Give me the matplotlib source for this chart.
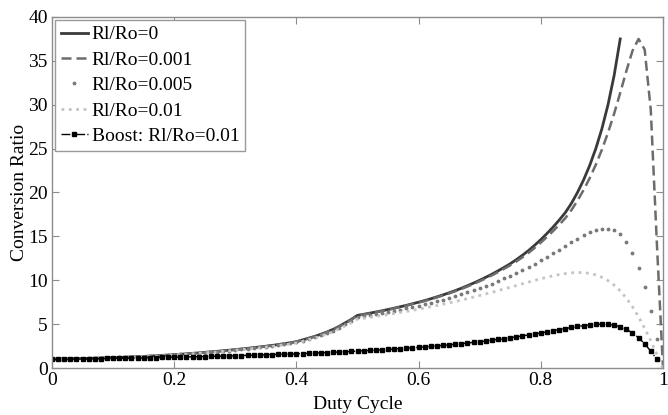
import matplotlib
matplotlib.use("Agg")
import matplotlib.pyplot as plt
import numpy as np

plt.rcParams["font.family"] = ["Liberation Serif", "DejaVu Serif"]
plt.rcParams["font.size"] = 14

# duty cycle grid, 0 .. 1.00 in steps of 0.01
duty = np.arange(101) / 100

# Rl/Ro = 0 (ideal), D = 0 .. 0.93
ratio_0 = [
    1.00, 1.02, 1.03, 1.05, 1.06, 1.08, 1.10, 1.12, 1.14, 1.16,
    1.18, 1.21, 1.23, 1.26, 1.29, 1.32, 1.36, 1.40, 1.44, 1.48,
    1.52, 1.57, 1.62, 1.67, 1.72, 1.78, 1.84, 1.90, 1.96, 2.03,
    2.10, 2.17, 2.24, 2.32, 2.40, 2.48, 2.57, 2.67, 2.77, 2.88,
    3.00, 3.20, 3.40, 3.60, 3.85, 4.10, 4.40, 4.75, 5.15, 5.55,
    6.00, 6.12, 6.25, 6.38, 6.52, 6.67, 6.82, 6.98, 7.14, 7.32,
    7.50, 7.69, 7.89, 8.11, 8.33, 8.57, 8.82, 9.09, 9.38, 9.68,
    10.00, 10.34, 10.69, 11.07, 11.47, 11.88, 12.35, 12.85, 13.39, 13.99,
    14.63, 15.32, 16.05, 16.85, 17.70, 18.75, 20.00, 21.43, 23.08, 25.00,
    27.27, 30.00, 33.33, 37.50,
]

# Rl/Ro = 0.001, D = 0 .. 1.00
ratio_001 = [
    1.00, 1.02, 1.03, 1.05, 1.06, 1.08, 1.10, 1.12, 1.14, 1.16,
    1.18, 1.21, 1.23, 1.26, 1.29, 1.32, 1.36, 1.40, 1.44, 1.48,
    1.52, 1.57, 1.62, 1.67, 1.72, 1.78, 1.84, 1.89, 1.95, 2.02,
    2.09, 2.16, 2.23, 2.31, 2.39, 2.47, 2.56, 2.66, 2.76, 2.87,
    2.99, 3.19, 3.38, 3.58, 3.83, 4.08, 4.38, 4.72, 5.12, 5.52,
    5.98, 6.10, 6.22, 6.35, 6.49, 6.64, 6.79, 6.94, 7.10, 7.28,
    7.46, 7.64, 7.84, 8.05, 8.27, 8.50, 8.75, 9.01, 9.29, 9.58,
    9.89, 10.22, 10.56, 10.93, 11.31, 11.70, 12.15, 12.62, 13.13, 13.69,
    14.29, 14.93, 15.60, 16.31, 17.07, 17.98, 19.07, 20.28, 21.64, 23.16,
    24.88, 26.82, 28.98, 31.36, 33.84, 36.13, 37.50, 36.29, 29.41, 14.15,
    0.00,
]

# Rl/Ro = 0.005, D = 0 .. 0.99
ratio_005 = [
    0.99, 1.01, 1.02, 1.04, 1.05, 1.07, 1.09, 1.11, 1.13, 1.15,
    1.17, 1.20, 1.22, 1.25, 1.27, 1.30, 1.34, 1.38, 1.42, 1.46,
    1.50, 1.55, 1.60, 1.65, 1.69, 1.75, 1.81, 1.87, 1.93, 1.99,
    2.06, 2.13, 2.20, 2.27, 2.35, 2.43, 2.52, 2.61, 2.71, 2.81,
    2.93, 3.12, 3.31, 3.50, 3.74, 3.98, 4.27, 4.60, 4.99, 5.37,
    5.79, 5.90, 6.02, 6.14, 6.26, 6.39, 6.52, 6.66, 6.80, 6.95,
    7.10, 7.27, 7.44, 7.61, 7.80, 7.99, 8.19, 8.40, 8.63, 8.86,
    9.10, 9.35, 9.62, 9.90, 10.20, 10.50, 10.83, 11.17, 11.52, 11.89,
    12.27, 12.67, 13.08, 13.49, 13.91, 14.33, 14.74, 15.12, 15.45, 15.71,
    15.87, 15.88, 15.69, 15.22, 14.40, 13.16, 11.43, 9.18, 6.45, 3.33,
]

# Rl/Ro = 0.01, D = 0 .. 1.00
ratio_01 = [
    0.98, 1.00, 1.01, 1.03, 1.04, 1.06, 1.08, 1.10, 1.11, 1.13,
    1.15, 1.18, 1.20, 1.23, 1.26, 1.29, 1.32, 1.36, 1.40, 1.44,
    1.48, 1.52, 1.57, 1.62, 1.67, 1.72, 1.78, 1.83, 1.89, 1.96,
    2.02, 2.09, 2.15, 2.23, 2.30, 2.37, 2.46, 2.55, 2.64, 2.74,
    2.85, 3.03, 3.22, 3.40, 3.63, 3.86, 4.13, 4.45, 4.81, 5.17,
    5.58, 5.67, 5.77, 5.88, 5.98, 6.09, 6.21, 6.33, 6.45, 6.57,
    6.70, 6.84, 6.98, 7.12, 7.27, 7.42, 7.58, 7.74, 7.91, 8.08,
    8.26, 8.44, 8.62, 8.81, 9.01, 9.20, 9.40, 9.60, 9.79, 9.98,
    10.17, 10.34, 10.51, 10.65, 10.76, 10.84, 10.88, 10.86, 10.78, 10.61,
    10.34, 9.96, 9.45, 8.79, 7.96, 6.98, 5.83, 4.52, 3.09, 1.57,
    0.00,
]

# Boost converter, Rl/Ro = 0.01, D = 0 .. 0.99
ratio_boost = [
    0.99, 1.00, 1.01, 1.02, 1.03, 1.04, 1.05, 1.06, 1.07, 1.09,
    1.10, 1.11, 1.12, 1.13, 1.15, 1.16, 1.17, 1.19, 1.20, 1.22,
    1.23, 1.25, 1.26, 1.28, 1.29, 1.31, 1.33, 1.35, 1.36, 1.38,
    1.40, 1.42, 1.44, 1.46, 1.48, 1.50, 1.53, 1.55, 1.57, 1.60,
    1.62, 1.65, 1.67, 1.70, 1.73, 1.76, 1.79, 1.82, 1.85, 1.89,
    1.92, 1.96, 2.00, 2.04, 2.08, 2.12, 2.16, 2.21, 2.25, 2.30,
    2.35, 2.41, 2.46, 2.52, 2.58, 2.64, 2.71, 2.78, 2.85, 2.92,
    3.00, 3.08, 3.17, 3.26, 3.35, 3.45, 3.55, 3.66, 3.77, 3.88,
    4.00, 4.12, 4.25, 4.37, 4.49, 4.62, 4.73, 4.83, 4.92, 4.98,
    5.00, 4.97, 4.88, 4.70, 4.41, 4.00, 3.45, 2.75, 1.92, 0.99,
]

x_ticks = [0, 0.2, 0.4, 0.6, 0.8, 1]
x_tick_labels = ["0", "0.2", "0.4", "0.6", "0.8", "1"]
y_ticks = [0, 5, 10, 15, 20, 25, 30, 35, 40]

fig = plt.figure(figsize=(6.68, 4.15), dpi=100)
ax = fig.add_axes([52 / 668, 47 / 415, 611 / 668, 351 / 415])

ax.plot(duty[:len(ratio_0)], ratio_0, "-", color="#3a3a3a", lw=2.0, label="Rl/Ro=0")
ax.plot(duty[:len(ratio_001)], ratio_001, "--", color="#6c6c6c", lw=1.8,
        dashes=(4, 2), label="Rl/Ro=0.001")
ax.plot(duty[:len(ratio_005)], ratio_005, ".", color="#7a7a7a", ms=3.5,
        label="Rl/Ro=0.005")
ax.plot(duty[:len(ratio_01)], ratio_01, ":", color="#c4c4c4", lw=2.0,
        label="Rl/Ro=0.01")
ax.plot(duty[:len(ratio_boost)], ratio_boost, "-.", color="black", lw=1.0,
        marker="s", ms=3.5, label="Boost: Rl/Ro=0.01")

ax.set_xlim(0, 1)
ax.set_ylim(0, 40)
ax.set_xticks(x_ticks)
ax.set_xticklabels(x_tick_labels)
ax.set_yticks(y_ticks)
ax.tick_params(direction="in", length=5, color="#8c8c8c", top=True, right=True,
               pad=3, labelsize=14)
for s in ax.spines.values():
    s.set_color("#8c8c8c")
    s.set_linewidth(1.0)

ax.set_xlabel("Duty Cycle", fontsize=14, labelpad=5)
ax.set_ylabel("Conversion Ratio", fontsize=14, labelpad=0)

leg = ax.legend(loc="upper left", fontsize=14, fancybox=False, framealpha=1,
                edgecolor="#999999", borderpad=0.3, labelspacing=0.4,
                handlelength=1.4, handletextpad=0.2, borderaxespad=0.15,
                numpoints=1)
leg.get_frame().set_linewidth(1.0)

fig.savefig("out.png", dpi=100)
